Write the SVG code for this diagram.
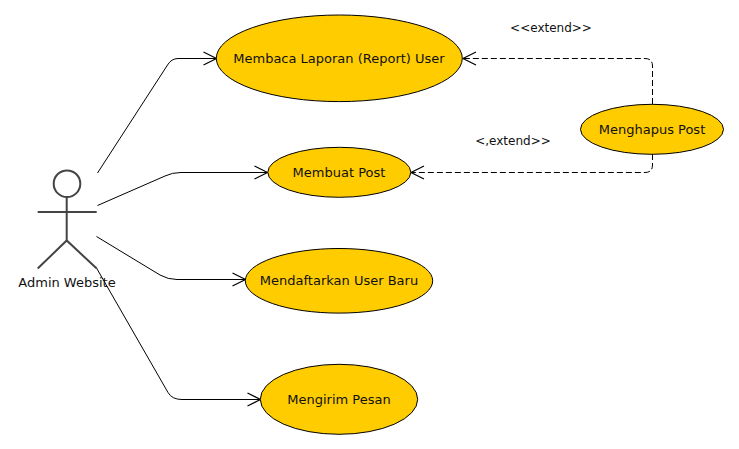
<svg xmlns="http://www.w3.org/2000/svg" width="739" height="449" viewBox="0 0 739 449">
<style>
text{font-family:"DejaVu Sans",sans-serif;font-size:13px;fill:#111}
.l{font-size:12px}
.u{fill:#fc0;stroke:#000;stroke-width:1}
.c{fill:none;stroke:#000;stroke-width:1}
.d{stroke-dasharray:6 3}
.h{fill:none;stroke:#000;stroke-width:1.200}
.s{fill:none;stroke:#444;stroke-width:2}
</style>
<rect width="739" height="449" fill="#fff"/>
<g id="connectors">
<path class="c" d="M97.500 173L167.500 65Q171.500 58.500 178 58.500H216"/><path class="h" d="M203.500 52L216.500 58.500L203.500 65"/>
<path class="c" d="M97.500 205.500L165 176Q172 172.500 181 172.500H267"/><path class="h" d="M254.500 166L267.500 172.500L254.500 179"/>
<path class="c" d="M96.500 236.500L160 275Q168 279.500 177 279.500H245"/><path class="h" d="M232.500 273L245.500 279.500L232.500 286"/>
<path class="c" d="M96.500 268L168 392.500Q172 399.500 182 399.500H260"/><path class="h" d="M247.500 393L260.500 399.500L247.500 406"/>
<path class="c d" d="M652.500 104V66Q652.500 58.500 645 58.500H463"/><path class="h" d="M476 52L463 58.500L476 65"/>
<path class="c d" d="M652.500 154V165Q652.500 172.500 645 172.500H411"/><path class="h" d="M424 166L411 172.500L424 179"/>
</g>
<g id="actor"><circle class="s" cx="67" cy="183.700" r="13.300"/><path class="s" d="M66.700 197V240.500M37.700 212H96.700M37.700 268.500L66.700 240.500L96.700 268.500"/><text x="67" y="287" text-anchor="middle">Admin Website</text></g>
<g id="uc1"><ellipse class="u" cx="339.300" cy="58.300" rx="123" ry="43.300"/><text x="339" y="62.500" text-anchor="middle">Membaca Laporan (Report) User</text></g>
<g id="uc2"><ellipse class="u" cx="339.300" cy="172.300" rx="71.500" ry="25"/><text x="339" y="177" text-anchor="middle">Membuat Post</text></g>
<g id="uc3"><ellipse class="u" cx="339" cy="280.800" rx="93.700" ry="32.300"/><text x="339" y="285" text-anchor="middle">Mendaftarkan User Baru</text></g>
<g id="uc4"><ellipse class="u" cx="339" cy="399.300" rx="78.700" ry="35"/><text x="339" y="404" text-anchor="middle">Mengirim Pesan</text></g>
<g id="uc5"><ellipse class="u" cx="652" cy="129.300" rx="71.500" ry="25"/><text x="652" y="134" text-anchor="middle">Menghapus Post</text></g>
<text class="l" x="551" y="32" text-anchor="middle">&lt;&lt;extend&gt;&gt;</text>
<text class="l" x="513" y="145" text-anchor="middle">&lt;,extend&gt;&gt;</text>
</svg>
